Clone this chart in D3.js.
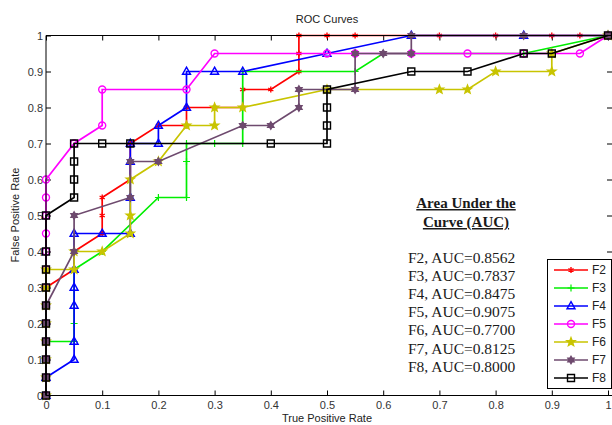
<!DOCTYPE html>
<html>
<head>
<meta charset="utf-8">
<script src="https://cdn.jsdelivr.net/npm/d3@7"></script>
<style>
  body { margin: 0; background: #fff; }
  svg { display: block; font-family: Arial, "Liberation Sans", sans-serif; }
</style>
</head>
<body>
<svg id="chart" width="612" height="425"></svg>
<script>
// series names and AUC values
const seriesNames = ["F2", "F3", "F4", "F5", "F6", "F7", "F8"];
const aucValues = ["0.8562", "0.7837", "0.8475", "0.9075", "0.7700", "0.8125", "0.8000"];
const tickValues = [0, 0.1, 0.2, 0.3, 0.4, 0.5, 0.6, 0.7, 0.8, 0.9, 1];

// ROC points (x = true positive rate axis, y = false positive rate axis as labelled)
const f2X = [0, 0, 0, 0, 0, 0, 0, 0.05, 0.05, 0.1, 0.1, 0.1, 0.15, 0.15, 0.15, 0.2, 0.25, 0.25, 0.3, 0.35, 0.35, 0.4, 0.45, 0.45, 0.45, 0.5, 0.55, 0.65, 0.7, 0.8, 0.85, 0.9, 0.95, 1];
const f2Y = [0, 0.05, 0.1, 0.15, 0.2, 0.25, 0.3, 0.35, 0.4, 0.45, 0.5, 0.55, 0.6, 0.65, 0.7, 0.75, 0.75, 0.8, 0.8, 0.8, 0.85, 0.85, 0.9, 0.95, 1, 1, 1, 1, 1, 1, 1, 1, 1, 1];

const f3X = [0, 0, 0, 0, 0.05, 0.05, 0.05, 0.1, 0.2, 0.25, 0.25, 0.25, 0.3, 0.35, 0.35, 0.55, 0.6, 0.85, 1];
const f3Y = [0, 0.05, 0.1, 0.15, 0.15, 0.2, 0.35, 0.4, 0.55, 0.55, 0.65, 0.7, 0.7, 0.7, 0.9, 0.9, 0.95, 0.95, 1];

const f4X = [0, 0, 0.05, 0.05, 0.05, 0.05, 0.05, 0.05, 0.1, 0.15, 0.15, 0.15, 0.15, 0.2, 0.2, 0.25, 0.25, 0.3, 0.35, 0.5, 0.65, 0.85, 1];
const f4Y = [0, 0.05, 0.1, 0.15, 0.25, 0.3, 0.35, 0.45, 0.45, 0.45, 0.55, 0.65, 0.7, 0.7, 0.75, 0.8, 0.9, 0.9, 0.9, 0.95, 1, 1, 1];

const f5X = [0, 0, 0, 0, 0, 0, 0, 0, 0, 0, 0, 0, 0, 0.05, 0.1, 0.1, 0.25, 0.3, 0.5, 0.55, 0.65, 0.75, 0.85, 0.95, 1];
const f5Y = [0, 0.05, 0.1, 0.15, 0.2, 0.25, 0.3, 0.35, 0.4, 0.45, 0.5, 0.55, 0.6, 0.7, 0.75, 0.85, 0.85, 0.95, 0.95, 0.95, 0.95, 0.95, 0.95, 0.95, 1];

const f6X = [0, 0, 0, 0, 0, 0, 0, 0, 0.05, 0.05, 0.1, 0.15, 0.15, 0.15, 0.2, 0.25, 0.3, 0.3, 0.35, 0.5, 0.7, 0.75, 0.8, 0.9, 0.9, 1];
const f6Y = [0, 0.05, 0.1, 0.15, 0.2, 0.25, 0.3, 0.35, 0.35, 0.4, 0.4, 0.45, 0.5, 0.6, 0.65, 0.75, 0.75, 0.8, 0.8, 0.85, 0.85, 0.85, 0.9, 0.9, 0.95, 1];

const f7X = [0, 0, 0, 0, 0, 0, 0.05, 0.05, 0.15, 0.15, 0.2, 0.35, 0.4, 0.45, 0.45, 0.55, 0.55, 0.6, 0.65, 0.65, 0.85, 1];
const f7Y = [0, 0.05, 0.1, 0.15, 0.2, 0.25, 0.4, 0.5, 0.55, 0.65, 0.65, 0.75, 0.75, 0.8, 0.85, 0.85, 0.95, 0.95, 0.95, 1, 1, 1];

const f8X = [0, 0, 0, 0, 0, 0, 0, 0, 0, 0, 0.05, 0.05, 0.05, 0.05, 0.1, 0.15, 0.4, 0.5, 0.5, 0.5, 0.5, 0.65, 0.75, 0.85, 0.9, 1];
const f8Y = [0, 0.05, 0.1, 0.15, 0.2, 0.25, 0.3, 0.35, 0.4, 0.5, 0.55, 0.6, 0.65, 0.7, 0.7, 0.7, 0.7, 0.7, 0.75, 0.8, 0.85, 0.9, 0.9, 0.95, 0.95, 1];

const colors = ["#ff0000", "#00ee00", "#0000ff", "#ff00ff", "#c8c400", "#6e4a6e", "#000000"];
const markers = ["asterisk", "plus", "triangle", "circle", "star", "hexagram", "square"];

const allX = [f2X, f3X, f4X, f5X, f6X, f7X, f8X];
const allY = [f2Y, f3Y, f4Y, f5Y, f6Y, f7Y, f8Y];

const series = seriesNames.map((name, i) => ({
  name,
  color: colors[i],
  marker: markers[i],
  points: allX[i].map((x, j) => ({ x, y: allY[i][j] }))
}));

const svg = d3.select("#chart");
const plotLeft = 46, plotRight = 608, plotTop = 35.5, plotBottom = 395.5;

const x = d3.scaleLinear().domain([0, 1]).range([plotLeft, plotRight]);
const y = d3.scaleLinear().domain([0, 1]).range([plotBottom, plotTop]);

function polyPath(n, ro, ri, start) {
  const pts = [];
  for (let k = 0; k < n * 2; k++) {
    const a = (start + k * 180 / n) * Math.PI / 180;
    const r = k % 2 ? ri : ro;
    pts.push([r * Math.cos(a), r * Math.sin(a)]);
  }
  return "M" + pts.map(p => p[0].toFixed(2) + "," + p[1].toFixed(2)).join("L") + "Z";
}

function markerPath(type) {
  switch (type) {
    case "asterisk": return "M0,-3V3M-2.6,-1.5L2.6,1.5M-2.6,1.5L2.6,-1.5";
    case "plus": return "M-3.5,0H3.5M0,-3.5V3.5";
    case "triangle": return "M0,-4.3L4,2.8L-4,2.8Z";
    case "circle": return d3.symbol(d3.symbolCircle, Math.PI * 3.5 * 3.5)();
    case "star": return polyPath(5, 4.3, 1.8, -90);
    case "hexagram": return polyPath(6, 3.6, 2.1, -90);
    case "square": return "M-3.5,-3.5H3.5V3.5H-3.5Z";
  }
}
const filled = { star: true, hexagram: true, asterisk: true };

// axes (inward ticks)
svg.append("g")
  .attr("transform", `translate(0,${plotBottom})`)
  .call(d3.axisBottom(x).tickValues(tickValues).tickFormat(d3.format("~g")).tickSize(-5).tickPadding(6))
  .call(g => g.select(".domain").remove());

svg.append("g")
  .attr("transform", `translate(${plotLeft},0)`)
  .call(d3.axisLeft(y).tickValues(tickValues).tickFormat(d3.format("~g")).tickSize(-5).tickPadding(3))
  .call(g => g.select(".domain").remove());

svg.append("g")
  .attr("transform", `translate(0,${plotTop})`)
  .call(d3.axisTop(x).tickValues(tickValues).tickFormat("").tickSize(-5))
  .call(g => g.select(".domain").remove());

svg.append("g")
  .attr("transform", `translate(607,0)`)
  .call(d3.axisRight(y).tickValues(tickValues.slice(1, -1)).tickFormat("").tickSize(5))
  .call(g => g.select(".domain").remove());

svg.selectAll(".tick text")
  .attr("fill", "#333")
  .style("font-size", "11px");
svg.selectAll(".tick line").attr("stroke", "#000");

// curves
const line = d3.line().x(d => x(d.x)).y(d => y(d.y));

series.forEach(s => {
  const g = svg.append("g");
  g.append("path")
    .datum(s.points)
    .attr("d", line)
    .attr("fill", "none")
    .attr("stroke", s.color)
    .attr("stroke-width", 1.7);
  g.selectAll("path.m")
    .data(s.points)
    .join("path")
    .attr("class", "m")
    .attr("transform", d => `translate(${x(d.x)},${y(d.y)})`)
    .attr("d", markerPath(s.marker))
    .attr("fill", filled[s.marker] ? s.color : "none")
    .attr("stroke", s.color)
    .attr("stroke-width", s.marker === "plus" ? 1.2 : 1.4);
});

// box
svg.append("path")
  .attr("d", `M612,${plotTop}H${plotLeft}V${plotBottom}H612`)
  .attr("fill", "none")
  .attr("stroke", "#000")
  .attr("stroke-width", 1);

// title and axis labels
svg.append("text")
  .attr("x", 327).attr("y", 23)
  .attr("text-anchor", "middle")
  .attr("fill", "#222")
  .style("font-size", "11px")
  .text("ROC Curves");

svg.append("text")
  .attr("x", 327).attr("y", 422)
  .attr("text-anchor", "middle")
  .attr("fill", "#222")
  .style("font-size", "11px")
  .text("True Positive Rate");

svg.append("text")
  .attr("transform", "translate(19,215) rotate(-90)")
  .attr("text-anchor", "middle")
  .attr("fill", "#222")
  .style("font-size", "11px")
  .text("False Positive Rate");

// AUC note
const note = svg.append("g")
  .style("font-family", '"Liberation Serif", "Times New Roman", serif')
  .attr("fill", "#1a1a1a");

note.append("text")
  .attr("x", 466).attr("y", 208)
  .attr("text-anchor", "middle")
  .style("font-size", "15px")
  .style("font-weight", "bold")
  .style("text-decoration", "underline")
  .text("Area Under the");

note.append("text")
  .attr("x", 466).attr("y", 227)
  .attr("text-anchor", "middle")
  .style("font-size", "15px")
  .style("font-weight", "bold")
  .style("text-decoration", "underline")
  .text("Curve (AUC)");

note.selectAll("text.auc")
  .data(seriesNames)
  .join("text")
  .attr("class", "auc")
  .attr("x", 408)
  .attr("y", (d, i) => 263 + i * 18.1)
  .style("font-size", "15.5px")
  .text((d, i) => `${d}, AUC=${aucValues[i]}`);

// legend
const legend = svg.append("g");
legend.append("rect")
  .attr("x", 547.5).attr("y", 259.5)
  .attr("width", 64).attr("height", 129)
  .attr("fill", "#fff")
  .attr("stroke", "#000")
  .attr("stroke-width", 1);

const items = legend.selectAll("g.item")
  .data(series)
  .join("g")
  .attr("class", "item")
  .attr("transform", (d, i) => `translate(0,${270 + i * 18})`);

items.append("line")
  .attr("x1", 554).attr("x2", 588)
  .attr("stroke", d => d.color)
  .attr("stroke-width", 1.7);

items.append("path")
  .attr("transform", "translate(571,0)")
  .attr("d", d => markerPath(d.marker))
  .attr("fill", d => filled[d.marker] ? d.color : "none")
  .attr("stroke", d => d.color)
  .attr("stroke-width", d => d.marker === "plus" ? 1.2 : 1.4);

items.append("text")
  .attr("x", 592).attr("dy", "0.35em")
  .attr("fill", "#222")
  .style("font-size", "12px")
  .text(d => d.name);
</script>
</body>
</html>
